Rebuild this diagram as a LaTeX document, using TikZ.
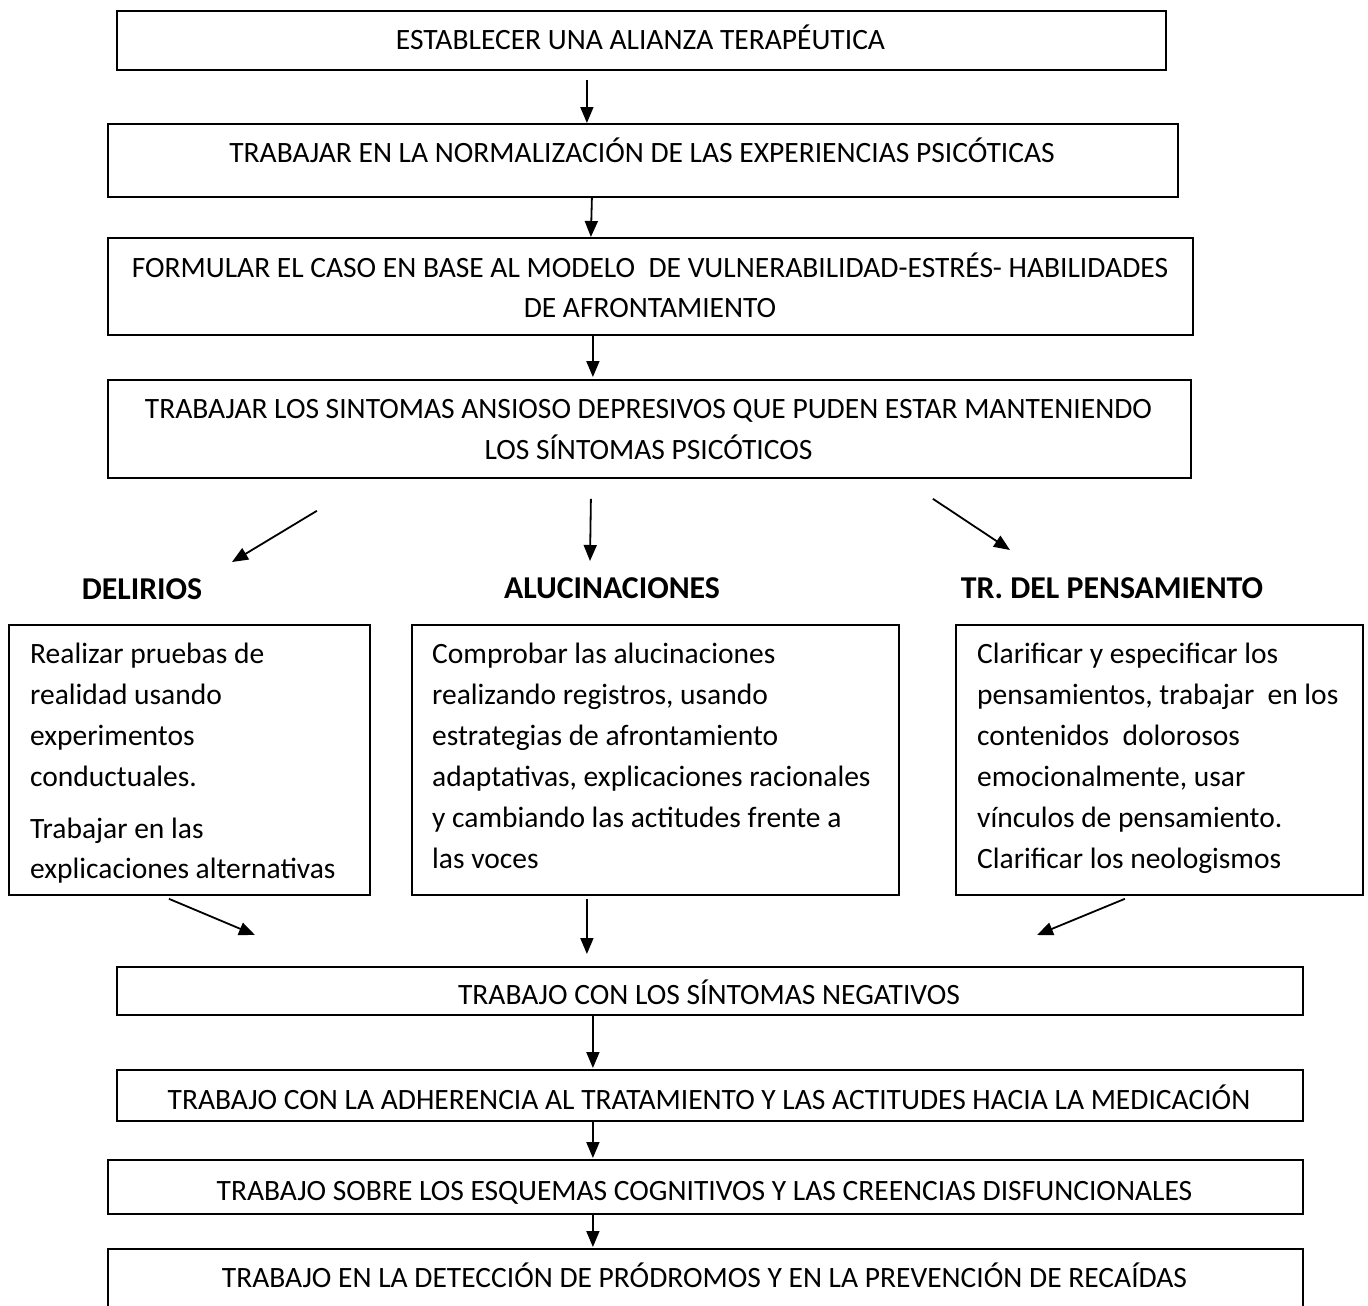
\documentclass[tikz,border=0pt]{standalone}
\usepackage{fontspec}
\setmainfont{Carlito}
\usetikzlibrary{arrows.meta}
\begin{document}
\begin{tikzpicture}[x=1pt,y=-1pt,
  box/.style={draw, line width=1.8pt, inner sep=0pt, anchor=north west},
  upper/.style={font=\fontsize{29.5}{34}\selectfont, anchor=base, inner sep=0pt},
  body/.style={font=\fontsize{29.5}{34}\selectfont, anchor=base west, inner sep=0pt},
  head/.style={font=\fontsize{31.8}{38}\selectfont\bfseries, anchor=base, inner sep=0pt},
  arr/.style={-{Triangle[length=16pt,width=13pt]}, line width=1.8pt}]

\clip (0,0) rectangle (1368,1306);
\fill[white] (0,0) rectangle (1368,1306);

% ---- main sequence, upper part
\node[box, minimum width=1049pt, minimum height=59pt] (b1) at (116,10) {};
\node[upper] (t1) at (640.5,49) {ESTABLECER UNA ALIANZA TERAPÉUTICA};

\node[box, minimum width=1070pt, minimum height=73pt] (b2) at (107,123) {};
\node[upper] (t2) at (642,162) {TRABAJAR EN LA NORMALIZACIÓN DE LAS EXPERIENCIAS PSICÓTICAS};

\node[box, minimum width=1085pt, minimum height=97pt] (b3) at (107,237) {};
\node[upper] (t3a) at (650,277) {FORMULAR EL CASO EN BASE AL MODELO\ \ DE VULNERABILIDAD-ESTRÉS- HABILIDADES};
\node[upper] (t3b) at (650,317) {DE AFRONTAMIENTO};

\node[box, minimum width=1083pt, minimum height=98pt] (b4) at (107,379) {};
\node[upper] (t4a) at (648.5,418) {TRABAJAR LOS SINTOMAS ANSIOSO DEPRESIVOS QUE PUDEN ESTAR MANTENIENDO};
\node[upper] (t4b) at (648.5,459) {LOS SÍNTOMAS PSICÓTICOS};

% ---- three branches
\node[head] (hd) at (142,599) {DELIRIOS};
\node[head] (ha) at (612,598) {ALUCINACIONES};
\node[head] (ht) at (1112,598) {TR. DEL PENSAMIENTO};

\node[box, minimum width=361pt, minimum height=270pt] (bd) at (8,624) {};
\node[body] (d1) at (30,663) {Realizar pruebas de};
\node[body] (d2) at (30,704) {realidad usando};
\node[body] (d3) at (30,745) {experimentos};
\node[body] (d4) at (30,786) {conductuales.};
\node[body] (d5) at (30,838) {Trabajar en las};
\node[body] (d6) at (30,878) {explicaciones alternativas};

\node[box, minimum width=487pt, minimum height=270pt] (ba) at (411,624) {};
\node[body] (a1) at (432,663) {Comprobar las alucinaciones};
\node[body] (a2) at (432,704) {realizando registros, usando};
\node[body] (a3) at (432,745) {estrategias de afrontamiento};
\node[body] (a4) at (432,786) {adaptativas, explicaciones racionales};
\node[body] (a5) at (432,827) {y cambiando las actitudes frente a};
\node[body] (a6) at (432,868) {las voces};

\node[box, minimum width=407pt, minimum height=270pt] (bt) at (955,624) {};
\node[body] (p1) at (977,663) {Clarificar y especificar los};
\node[body] (p2) at (977,704) {pensamientos, trabajar\ \ en los};
\node[body] (p3) at (977,745) {contenidos\ \ dolorosos};
\node[body] (p4) at (977,786) {emocionalmente, usar};
\node[body] (p5) at (977,827) {vínculos de pensamiento.};
\node[body] (p6) at (977,868) {Clarificar los neologismos};

% ---- main sequence, lower part
\node[box, minimum width=1186pt, minimum height=48pt] (b6) at (116,966) {};
\node[upper] (t6) at (709,1004) {TRABAJO CON LOS SÍNTOMAS NEGATIVOS};

\node[box, minimum width=1186pt, minimum height=51pt] (b7) at (116,1069) {};
\node[upper] (t7) at (709,1109) {TRABAJO CON LA ADHERENCIA AL TRATAMIENTO Y LAS ACTITUDES HACIA LA MEDICACIÓN};

\node[box, minimum width=1195pt, minimum height=54pt] (b8) at (107,1159) {};
\node[upper] (t8) at (704.5,1200) {TRABAJO SOBRE LOS ESQUEMAS COGNITIVOS Y LAS CREENCIAS DISFUNCIONALES};

\node[box, minimum width=1195pt, minimum height=82pt] (b9) at (107,1248) {};
\node[upper] (t9) at (704.5,1287) {TRABAJO EN LA DETECCIÓN DE PRÓDROMOS Y EN LA PREVENCIÓN DE RECAÍDAS};

% ---- free arrow ends
\coordinate (toD) at (232,562);
\coordinate (toA) at (590,561);
\coordinate (toT) at (1010,550);
\coordinate (fromD) at (255,935);
\coordinate (fromT) at (1037,935);

% ---- connectors
\draw[arr] ([xshift=-54.5pt,yshift=-9pt]b1.south) -- ([xshift=-56pt]b2.north);
\draw[arr] ([xshift=-51pt]b2.south) -- ([xshift=-59.5pt]b3.north);
\draw[arr] ([xshift=-57.5pt]b3.south) -- ([xshift=-56.5pt,yshift=2pt]b4.north);

\draw[arr] ([xshift=-332.5pt,yshift=-32pt]b4.south) -- (toD);
\draw[arr] ([xshift=-58.5pt,yshift=-20pt]b4.south) -- (toA);
\draw[arr] ([xshift=283.5pt,yshift=-20pt]b4.south) -- (toT);

\draw[arr] ([xshift=-20.5pt,yshift=-3pt]bd.south) -- (fromD);
\draw[arr] ([xshift=-68.5pt,yshift=-3pt]ba.south) -- ([xshift=-123pt,yshift=12pt]b6.north);
\draw[arr] ([xshift=-34.5pt,yshift=-3pt]bt.south) -- (fromT);

\draw[arr] ([xshift=-117pt]b6.south) -- ([xshift=-117pt,yshift=1pt]b7.north);
\draw[arr] ([xshift=-117pt]b7.south) -- ([xshift=-112.5pt,yshift=1pt]b8.north);
\draw[arr] ([xshift=-112.5pt]b8.south) -- ([xshift=-112.5pt,yshift=1pt]b9.north);
\end{tikzpicture}
\end{document}
